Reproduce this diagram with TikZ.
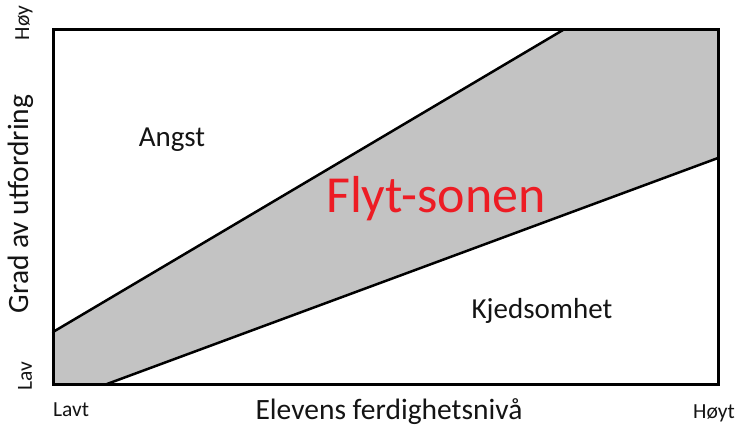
\documentclass[tikz,border=0pt]{standalone}
\usepackage{fontspec}
\setmainfont{Carlito}
\usetikzlibrary{positioning}
\definecolor{zoneGray}{RGB}{195,195,195}
\definecolor{flowRed}{RGB}{237,28,36}
\definecolor{inkText}{RGB}{20,20,20}

\begin{document}
\begin{tikzpicture}[x=1pt,y=-1pt,
  lbl/.style={font=\fontsize{29}{30}\selectfont,text=inkText,inner sep=0pt},
  axlbl/.style={lbl,font=\fontsize{29.5}{31}\selectfont},
  tick/.style={font=\fontsize{21.5}{23}\selectfont,text=inkText,inner sep=0pt},
  edge/.style={line width=2.5pt,line cap=round}]
  \useasboundingbox (0,0) rectangle (738,428);
  % frame corners and channel ends
  \coordinate (tl) at (53,30);
  \coordinate (br) at (718,384);
  \coordinate (hiA) at (53,332);
  \coordinate (hiB) at (563,30);
  \coordinate (loA) at (107,384);
  \coordinate (loB) at (718,158);
  \fill[zoneGray] (hiA) -- (hiB) -- (718,30) -- (loB) -- (loA) -- (53,384) -- cycle;
  \draw[edge] (hiA) -- (hiB);
  \draw[edge] (loA) -- (loB);
  \draw[line width=3pt] (tl) rectangle (br);
  % zone labels
  \node[lbl,anchor=base] (angst) at (172,146) {Angst};
  \node[lbl,anchor=base,font=\fontsize{52}{55}\selectfont,text=flowRed] (flyt) at (436,212) {Flyt-sonen};
  \node[lbl,anchor=base] (kjed) at (542,318) {Kjedsomhet};
  % axes
  \node[axlbl,anchor=base] (xlab) at (389,419) {Elevens ferdighetsnivå};
  \node[axlbl,anchor=base,rotate=90] (ylab) at (28,204) {Grad av utfordring};
  \node[tick,anchor=base west] (xlo) at (53,416) {Lavt};
  \node[tick,anchor=base east] (xhi) at (735,418) {Høyt};
  \node[tick,rotate=90] (ylo) at (25,376) {Lav};
  \node[tick,rotate=90] (yhi) at (24,23) {Høy};
\end{tikzpicture}
\end{document}
